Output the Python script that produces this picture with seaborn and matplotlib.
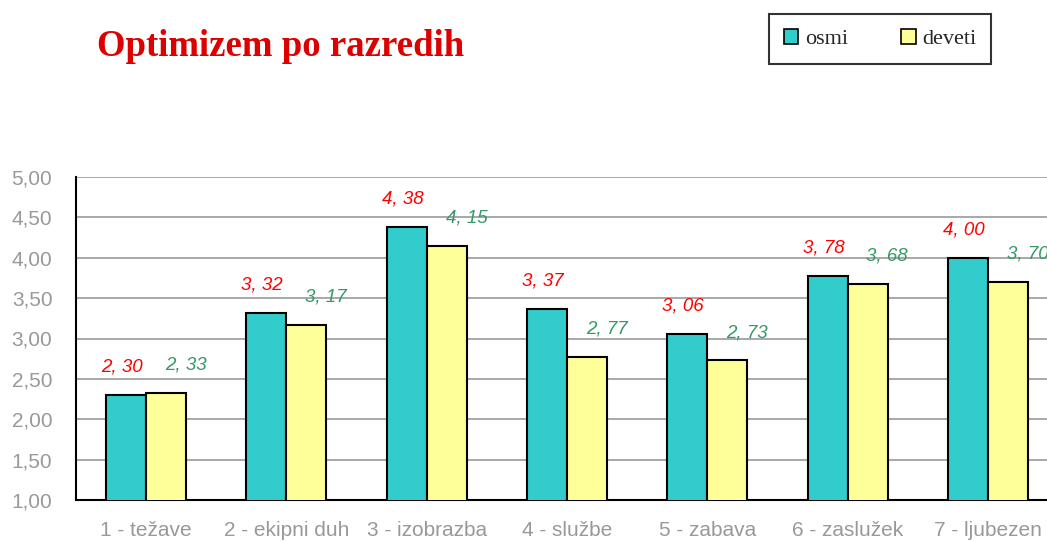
import pandas as pd
import numpy as np
import matplotlib.pyplot as plt
import seaborn as sns
from matplotlib.patches import Patch

# data
categories = ["1 - težave", "2 - ekipni duh", "3 - izobrazba", "4 - službe",
              "5 - zabava", "6 - zaslužek", "7 - ljubezen"]
osmi = [2.30, 3.32, 4.38, 3.37, 3.06, 3.78, 4.00]
deveti = [2.33, 3.17, 4.15, 2.77, 2.73, 3.68, 3.70]
series_names = ["osmi", "deveti"]
y_ticks = [1.0, 1.5, 2.0, 2.5, 3.0, 3.5, 4.0, 4.5, 5.0]

df = pd.DataFrame({
    "kategorija": categories * 2,
    "vrednost": osmi + deveti,
    "razred": [series_names[0]] * len(categories) + [series_names[1]] * len(categories),
})

colors = ["#33CCCC", "#FFFF99"]
label_colors = ["#FF0000", "#339966"]

sns.set_style("white")

fig = plt.figure(figsize=(10.47, 5.41), dpi=100)
ax = fig.add_axes([76 / 1047, 41 / 541, 982 / 1047, 323 / 541])

sns.barplot(data=df, x="kategorija", y="vrednost", hue="razred",
            palette=colors, width=0.57, edgecolor="black", linewidth=1.5,
            saturation=1, legend=False, ax=ax, zorder=3)

ax.set_ylim(1.0, 5.0)
ax.set_xlim(-0.5, len(categories) - 0.5)
ax.set_yticks(y_ticks)
ax.set_yticklabels([f"{v:.2f}".replace(".", ",") for v in y_ticks],
                   color="#999999", fontsize=15, family="Liberation Sans")
ax.set_xticks(range(len(categories)))
ax.set_xticklabels(categories, color="#999999", fontsize=15, family="Liberation Sans")
ax.tick_params(axis="x", which="major", length=0, pad=15)
ax.set_xticks(np.arange(-0.5, len(categories) - 0.5, 1.0), minor=True)
ax.tick_params(axis="x", which="minor", length=5, width=1.5, color="black", direction="out")
ax.tick_params(axis="y", length=5, width=1.5, color="black", direction="out", pad=12)
ax.set_xlabel("")
ax.set_ylabel("")
ax.grid(axis="y", color="#999999", linewidth=1.2, zorder=0)
ax.set_axisbelow(True)
for s in ["top", "right"]:
    ax.spines[s].set_visible(False)
for s in ["left", "bottom"]:
    ax.spines[s].set_color("black")
    ax.spines[s].set_linewidth(1.5)

# value labels
for i, cont in enumerate(ax.containers):
    for bar in cont:
        h = bar.get_height()
        xc = bar.get_x() + bar.get_width() / 2 + (0.14 if i == 1 else -0.03)
        ax.annotate(f"{h:.2f}".replace(".", ", "), (xc, h), xytext=(0, 20),
                    textcoords="offset points", ha="center", va="center",
                    color=label_colors[i], fontsize=13.5, style="italic",
                    family="Liberation Sans", annotation_clip=False)

fig.text(97 / 1047, 1 - 47 / 541, "Optimizem po razredih", color="#DD0000",
         fontsize=26.5, fontweight="bold", family="Liberation Serif", va="center")

handles = [Patch(facecolor=c, edgecolor="black", linewidth=1.2) for c in colors]
leg = fig.legend(handles, series_names, loc="center", bbox_to_anchor=(880 / 1047, 1 - 39 / 541),
                 ncol=2, frameon=True, fancybox=False, edgecolor="black",
                 prop={"family": "Liberation Serif", "size": 16},
                 handlelength=0.65, handleheight=0.65, handletextpad=0.3,
                 columnspacing=2.4, borderpad=0.65, borderaxespad=0)
leg._legend_box.sep = 0
leg.get_frame().set_linewidth(1.5)

fig.savefig("out.png", dpi=100)
